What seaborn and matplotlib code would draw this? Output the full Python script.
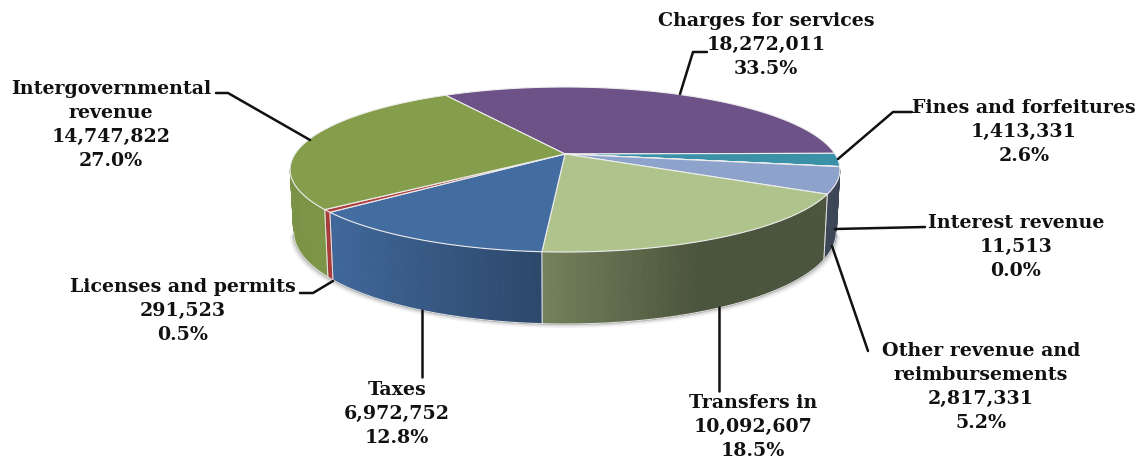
import numpy as np
import matplotlib
matplotlib.use("Agg")
import matplotlib.pyplot as plt
import seaborn as sns
from matplotlib.colors import to_rgb

categories = ["Charges for services", "Fines and forfeitures", "Interest revenue",
              "Other revenue and\nreimbursements", "Transfers in", "Taxes",
              "Licenses and permits", "Intergovernmental\nrevenue"]
values = [18272011, 1413331, 11513, 2817331, 10092607, 6972752, 291523, 14747822]
slice_colors = ["#6D5287", "#3B92A8", "#3D4F73", "#8DA3CB", "#AFC48C", "#436CA1", "#B0403D", "#849E4B"]

sns.set_theme(style="white")
plt.rcParams["font.family"] = ["DejaVu Serif"]

APEX = (565.0, 155.0)
A, B, K = 270.0, 79.6, 0.188
WALL_LO, WALL_HI = -np.pi + np.arcsin(K), -np.arcsin(K)

def top_xy(t):
    w = 1 + K * np.sin(t)
    return APEX[0] + A * np.cos(t) / w, APEX[1] - B * np.sin(t) / w

def bottom_xy(t):
    x, y = top_xy(t)
    return APEX[0] + (x - APEX[0]) * 0.987, y + 60 - 12 * np.sin(t)

def shade(x):
    return np.interp(x, [293, 335, 543, 700, 840], [0.93, 0.95, 0.66, 0.43, 0.43])

shares = np.array(values, dtype=float) / np.sum(values)
edges = np.deg2rad(0.5 + 360 * shares[0] - 360 * np.concatenate([[0], np.cumsum(shares)]))

fig = plt.figure(figsize=(11.45, 4.64), dpi=100)
ax = fig.add_axes([0, 0, 1, 1])
ax.set_xlim(0, 1145)
ax.set_ylim(464, 0)
ax.axis("off")

# soft shadow beneath the wall
tt = np.linspace(WALL_LO, WALL_HI, 200)
bx, by = bottom_xy(tt)
for off, alpha in [(4, 0.05), (2.5, 0.08), (1.2, 0.12)]:
    ax.fill(bx + (bx - APEX[0]) * off / 300, by + off, color="black", alpha=alpha, lw=0, zorder=1)

edge_white = "#EDEDED"
# side walls, one gradient strip at a time
for i in range(len(values)):
    a, b = edges[i + 1], edges[i]
    a2, b2 = max(a, WALL_LO), min(b, WALL_HI)
    if b2 <= a2:
        continue
    steps = np.linspace(a2, b2, max(2, int((b2 - a2) * 60)))
    base = np.array(to_rgb(slice_colors[i]))
    for u, v in zip(steps[:-1], steps[1:]):
        xa, ya = top_xy(u)
        xb, yb = top_xy(v)
        xc, yc = bottom_xy(v)
        xd, yd = bottom_xy(u)
        col = base * shade((xa + xb) / 2)
        ax.fill([xa, xb, xc, xd], [ya, yb, yc, yd], color=col, lw=0.6, zorder=2)
    for e in (a, b):
        if WALL_LO < e < WALL_HI:
            xa, ya = top_xy(e)
            xd, yd = bottom_xy(e)
            ax.plot([xa, xd], [ya, yd], color=edge_white, lw=0.7, alpha=0.7, zorder=3)

# lower rim of the wall
bx, by = bottom_xy(np.linspace(WALL_LO, WALL_HI, 200))
ax.plot(bx, by, color="#DDDDDD", lw=0.8, zorder=3)

# top face
for i in range(len(values)):
    ts = np.linspace(edges[i + 1], edges[i], max(3, int((edges[i] - edges[i + 1]) * 80)))
    x, y = top_xy(ts)
    ax.fill(np.r_[APEX[0], x], np.r_[APEX[1], y], facecolor=slice_colors[i],
            edgecolor=edge_white, lw=0.8, joinstyle="round", zorder=4)

# leader lines
leaders = [
    ([680, 693, 707], [95, 53, 53]),
    ([838, 893, 912], [160, 113, 113]),
    ([835, 925], [230, 228]),
    ([832, 868], [247, 352]),
    ([719, 719], [308, 392]),
    ([422, 422], [311, 378]),
    ([333, 313, 300], [282, 294, 294]),
    ([310, 228, 216], [141, 94, 94]),
]
for lx, ly in leaders:
    ax.plot(lx, ly, color="#111111", lw=1.8, solid_capstyle="round", zorder=5)

label_pos = [(766, 45), (1024, 132), (1016, 247), (981, 387), (753, 427), (397, 414), (183, 311), (111, 125)]
for name, val, sh, (px, py) in zip(categories, values, shares, label_pos):
    ax.text(px, py, f"{name}\n{val:,}\n{sh * 100:.1f}%", ha="center", va="center",
            fontsize=13.7, fontweight="bold", color="#111111", linespacing=1.44, zorder=6)

fig.savefig("out.png", dpi=100, facecolor="white")
